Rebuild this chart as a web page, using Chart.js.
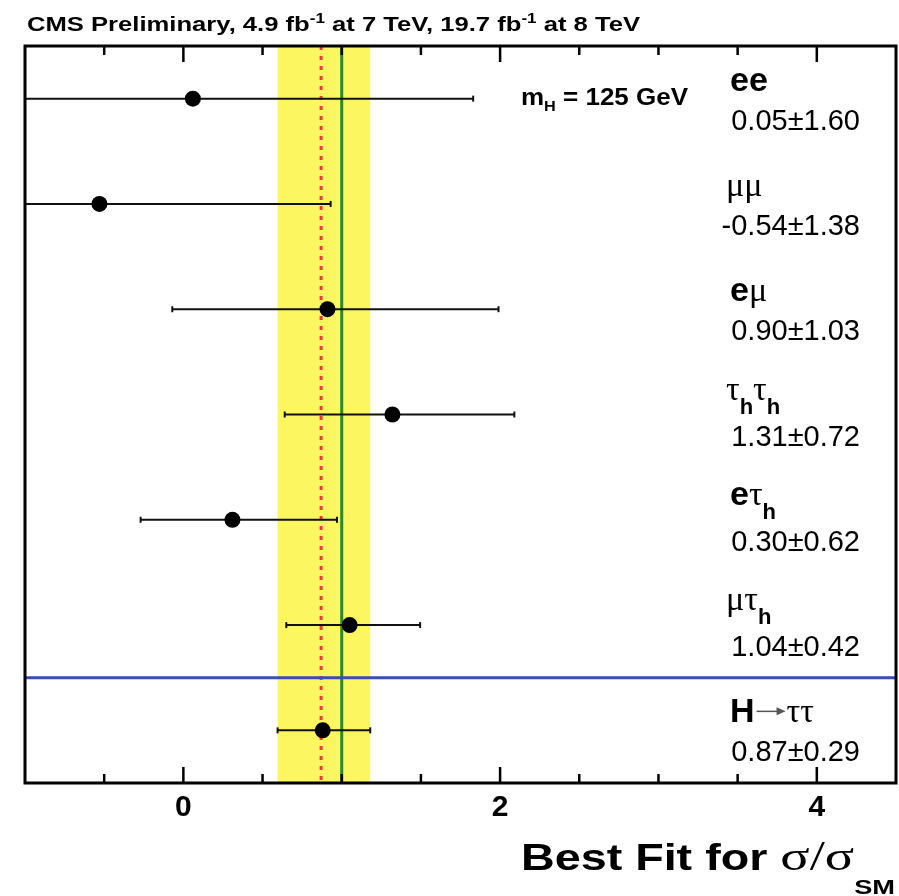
<!DOCTYPE html>
<html>
<head>
<meta charset="utf-8">
<script src="https://cdn.jsdelivr.net/npm/chart.js@4.4.0/dist/chart.umd.min.js"></script>
<style>
  html, body { margin: 0; padding: 0; background: #fff; }
  canvas { display: block; }
</style>
</head>
<body>
<canvas id="fitChart" width="899" height="896"></canvas>
<script>
// channels, top to bottom
const channels = ['ee', 'μμ', 'eμ', 'τhτh', 'eτh', 'μτh', 'H→ττ'];
const bestFit = [0.06, -0.53, 0.91, 1.32, 0.31, 1.05, 0.88];
const errLow = [-1.55, -1.92, -0.07, 0.64, -0.27, 0.65, 0.595];
const errHigh = [1.83, 0.93, 1.99, 2.09, 0.97, 1.495, 1.18];
const resultText = ['0.05±1.60', '-0.54±1.38', '0.90±1.03', '1.31±0.72', '0.30±0.62', '1.04±0.42', '0.87±0.29'];

// combined result and SM expectation
const combinedFit = 0.87;
const combinedBand = [0.595, 1.18];
const smValue = 1;
const separatorY = 1; // line between single channels and combination

// how the channel names are written (text, style)
const labelParts = [
    [['ee', 'b']],
    [['μμ', 'g']],
    [['e', 'b'], ['μ', 'g']],
    [['τ', 'g'], ['h', 'sub'], ['τ', 'g'], ['h', 'sub']],
    [['e', 'b'], ['τ', 'g'], ['h', 'sub']],
    [['μ', 'g'], ['τ', 'g'], ['h', 'sub']],
    [['H', 'b'], ['→', 'arrow'], ['ττ', 'g']]
];

const SANS = "'Liberation Sans', Arial, sans-serif";
const SERIF = "'Liberation Serif', 'Times New Roman', serif";

const rowY = channels.map((c, i) => channels.length - i - 0.5);

const partStyle = {
    b: { font: 'bold 34px ' + SANS, dy: 0 },
    g: { font: '34px ' + SERIF, dy: 0 },
    sub: { font: 'bold 22px ' + SANS, dy: 14 }
};

function drawRich(ctx, x, y, parts) {
    let cx = x;
    parts.forEach(([txt, kind]) => {
        if (kind === 'arrow') {
            // thin grey arrow
            const ay = y - 11;
            ctx.strokeStyle = '#555';
            ctx.fillStyle = '#555';
            ctx.lineWidth = 1.5;
            ctx.beginPath();
            ctx.moveTo(cx + 2, ay);
            ctx.lineTo(cx + 24, ay);
            ctx.stroke();
            ctx.beginPath();
            ctx.moveTo(cx + 31, ay);
            ctx.lineTo(cx + 22, ay - 4);
            ctx.lineTo(cx + 22, ay + 4);
            ctx.closePath();
            ctx.fill();
            cx += 32;
            return;
        }
        const st = partStyle[kind];
        ctx.font = st.font;
        ctx.fillStyle = '#000';
        ctx.fillText(txt, cx, y + st.dy);
        cx += ctx.measureText(txt).width;
    });
}

// text run squeezed/stretched to span x0..x1
function drawRun(ctx, x0, x1, y, parts) {
    let w = 0;
    parts.forEach(([txt, font]) => { ctx.font = font; w += ctx.measureText(txt).width; });
    ctx.save();
    ctx.translate(x0, 0);
    ctx.scale((x1 - x0) / w, 1);
    let cx = 0;
    parts.forEach(([txt, font, dy]) => {
        ctx.font = font;
        ctx.fillStyle = '#000';
        ctx.fillText(txt, cx, y + (dy || 0));
        cx += ctx.measureText(txt).width;
    });
    ctx.restore();
}

// error bars: one small line dataset per channel
const errorSets = channels.map((c, i) => ({
    type: 'scatter',
    showLine: true,
    data: [{ x: errLow[i], y: rowY[i] }, { x: errHigh[i], y: rowY[i] }],
    borderColor: '#111',
    borderWidth: 2,
    pointStyle: 'line',
    rotation: 90,
    pointRadius: 3,
    pointBorderWidth: 2,
    pointBorderColor: '#111',
    order: 2
}));

const pointSet = {
    type: 'scatter',
    data: bestFit.map((v, i) => ({ x: v, y: rowY[i] })),
    pointRadius: 8,
    backgroundColor: '#000',
    borderWidth: 0,
    order: 0
};

const decorations = {
    id: 'decorations',
    beforeDatasetsDraw(chart) {
        const { ctx, chartArea: a, scales: { x, y } } = chart;
        ctx.save();
        // yellow band for the combined fit
        const b0 = x.getPixelForValue(combinedBand[0]);
        const b1 = x.getPixelForValue(combinedBand[1]);
        ctx.fillStyle = '#fcf760';
        ctx.fillRect(b0, a.top, b1 - b0, a.bottom - a.top);
        // SM line
        const sm = x.getPixelForValue(smValue);
        ctx.strokeStyle = '#2d872d';
        ctx.lineWidth = 3;
        ctx.beginPath();
        ctx.moveTo(sm, a.top);
        ctx.lineTo(sm, a.bottom);
        ctx.stroke();
        // combined best fit, dotted
        const cf = x.getPixelForValue(combinedFit);
        ctx.strokeStyle = '#f03a3a';
        ctx.lineWidth = 3;
        ctx.setLineDash([4, 6]);
        ctx.beginPath();
        ctx.moveTo(cf, a.top);
        ctx.lineTo(cf, a.bottom);
        ctx.stroke();
        ctx.setLineDash([]);
        // separator
        const sy = y.getPixelForValue(separatorY);
        ctx.strokeStyle = '#3a4db0';
        ctx.lineWidth = 3;
        ctx.beginPath();
        ctx.moveTo(a.left, sy);
        ctx.lineTo(a.right, sy);
        ctx.stroke();
        ctx.restore();
    },
    afterDraw(chart) {
        const { ctx, chartArea: a, scales: { x, y } } = chart;
        ctx.save();
        // frame
        ctx.strokeStyle = '#000';
        ctx.lineWidth = 3;
        ctx.strokeRect(a.left, a.top, a.right - a.left, a.bottom - a.top);
        // tick marks inside, bottom and top
        ctx.lineWidth = 2.5;
        x.ticks.forEach(t => {
            const px = x.getPixelForValue(t.value);
            if (px <= a.left + 2 || px >= a.right - 2) return;
            const len = t.value % 2 === 0 ? 16 : 9;
            ctx.beginPath();
            ctx.moveTo(px, a.bottom);
            ctx.lineTo(px, a.bottom - len);
            ctx.moveTo(px, a.top);
            ctx.lineTo(px, a.top + len);
            ctx.stroke();
        });

        ctx.textAlign = 'left';
        ctx.textBaseline = 'alphabetic';
        // header
        const hf = 'bold 21px ' + SANS, hs = 'bold 14px ' + SANS;
        drawRun(ctx, 27, 640, 31, [
            ['CMS Preliminary, 4.9 fb', hf], ['-1', hs, -8], [' at 7 TeV, 19.7 fb', hf], ['-1', hs, -8], [' at 8 TeV', hf]
        ]);

        // mass label
        drawRun(ctx, 521, 688, 105, [
            ['m', 'bold 24px ' + SANS], ['H', 'bold 15px ' + SANS, 6], [' = 125 GeV', 'bold 24px ' + SANS]
        ]);

        // channel names and results
        channels.forEach((c, i) => {
            const py = y.getPixelForValue(rowY[i]);
            const hasSub = labelParts[i].some(p => p[1] === 'sub');
            const isGreekStart = labelParts[i][0][1] === 'g';
            drawRich(ctx, isGreekStart ? 726 : 730, py + (hasSub ? -15 : -8), labelParts[i]);
            ctx.font = '29px ' + SANS;
            ctx.fillStyle = '#000';
            ctx.textAlign = 'right';
            ctx.fillText(resultText[i], 860, py + 31);
            ctx.textAlign = 'left';
        });

        // axis title
        drawRun(ctx, 521, 895, 870, [
            ['Best Fit for ', 'bold 36px ' + SANS], ['σ/σ', '42px ' + SERIF], ['SM', 'bold 21px ' + SANS, 24]
        ]);
        ctx.restore();
    }
};

new Chart(document.getElementById('fitChart'), {
    type: 'scatter',
    data: { datasets: [pointSet, ...errorSets] },
    plugins: [decorations],
    options: {
        responsive: false,
        animation: false,
        events: [],
        layout: { autoPadding: false, padding: { left: 25, right: 3, top: 46, bottom: 0 } },
        plugins: { legend: { display: false }, tooltip: { enabled: false } },
        scales: {
            x: {
                type: 'linear',
                min: -1,
                max: 4.5,
                grid: { display: false, drawTicks: false },
                border: { display: false },
                afterFit(scale) {
                    scale.height = 113;
                    scale.paddingLeft = 0;
                    scale.paddingRight = 0;
                },
                ticks: {
                    stepSize: 0.5,
                    autoSkip: false,
                    maxRotation: 0,
                    padding: 7,
                    color: '#000',
                    font: { family: SANS, size: 30, weight: 'bold' },
                    callback: v => (v % 2 === 0 ? String(v) : '')
                }
            },
            y: {
                type: 'linear',
                min: 0,
                max: 7,
                display: false
            }
        }
    }
});
</script>
</body>
</html>
